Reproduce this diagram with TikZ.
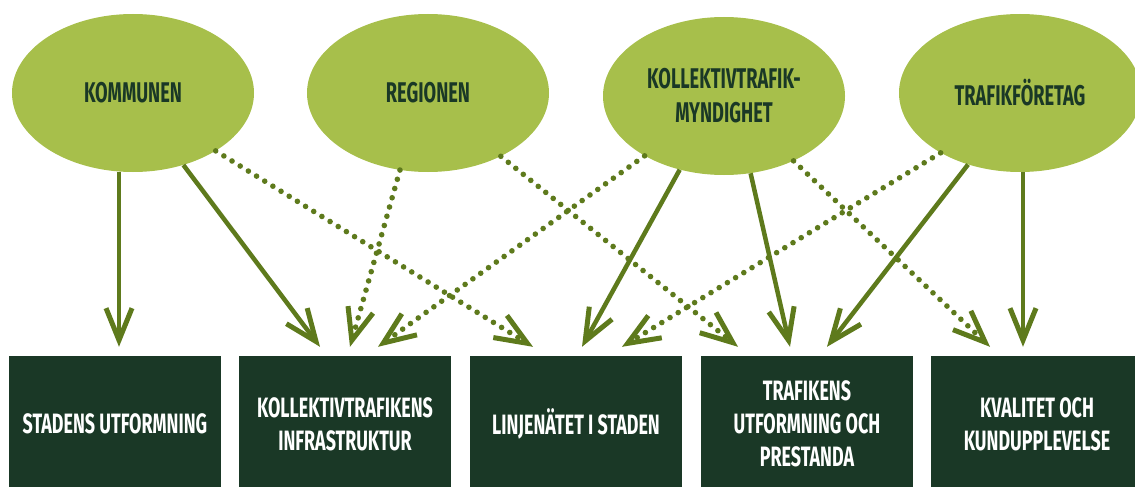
\documentclass[tikz,border=0pt]{standalone}
\usepackage{fontspec}
\newfontfamily\dinfont{Fira Sans}[FakeStretch=0.64]
\usetikzlibrary{shapes.geometric,arrows.meta}
\definecolor{lightg}{HTML}{A7BF4B}
\definecolor{arrowg}{HTML}{5E7A1C}
\definecolor{darkg}{HTML}{1A3826}
\tikzset{
  actor/.style={ellipse, fill=lightg, minimum width=242pt, minimum height=158pt, inner sep=0pt,
    text=darkg, font=\dinfont\bfseries\fontsize{28.5}{34}\selectfont, align=center},
  area/.style={rectangle, fill=darkg, minimum width=212pt, minimum height=136pt, inner sep=0pt,
    text=white, font=\dinfont\bfseries\fontsize{28}{33}\selectfont, align=center},
  tipv/.style={-{Straight Barb[length=32pt,width=26pt,line width=5pt]}},
  solidarrow/.style={tipv, draw=arrowg, line width=4.5pt},
  dotarrow/.style={tipv, draw=arrowg, line width=5.6pt, line cap=round, dash pattern=on 0pt off 9.6pt}
}
\begin{document}
\begin{tikzpicture}[x=1pt,y=-1pt]
\useasboundingbox (0,0) rectangle (1135,487);
% actors
\node[actor] (k) at (133,93) {KOMMUNEN};
\node[actor] (r) at (428,93) {REGIONEN};
\node[actor] (m) at (724,96) {KOLLEKTIVTRAFIK-\\MYNDIGHET};
\node[actor] (t) at (1020,93) {TRAFIKFÖRETAG};
% areas
\node[area] (b1) at (115,424) {STADENS UTFORMNING};
\node[area] (b2) at (345,424) {KOLLEKTIVTRAFIKENS\\INFRASTRUKTUR};
\node[area] (b3) at (576,424) {LINJENÄTET I STADEN};
\node[area] (b4) at (807,424) {TRAFIKENS\\UTFORMNING OCH\\PRESTANDA};
\node[area] (b5) at (1037,424) {KVALITET OCH\\KUNDUPPLEVELSE};
% solid connectors
\draw[solidarrow] ([xshift=-14pt]k.south) -- ([xshift=4pt,yshift=9pt]b1.north);
\draw[solidarrow] (k.-55) -- ([xshift=-25pt,yshift=9pt]b2.north);
\draw[solidarrow] (m.-121) -- ([xshift=6pt,yshift=9pt]b3.north);
\draw[solidarrow] (m.-71) -- ([xshift=-17pt,yshift=9pt]b4.north);
\draw[solidarrow] (t.-126) -- ([xshift=20pt,yshift=9pt]b4.north);
\draw[solidarrow] ([xshift=3pt]t.south) -- ([xshift=-14pt,yshift=9pt]b5.north);
% dotted connectors
\draw[dotarrow] (k.-35) -- ([xshift=-43pt,yshift=9pt]b3.north);
\draw[dotarrow] (r.-110) -- ([xshift=5pt,yshift=9pt]b2.north);
\draw[dotarrow] (r.-41) -- ([xshift=-69pt,yshift=9pt]b4.north);
\draw[dotarrow] (m.-143) -- ([xshift=33pt,yshift=9pt]b2.north);
\draw[dotarrow] (m.-43) -- ([xshift=-47pt,yshift=9pt]b5.north);
\draw[dotarrow] (t.-143) -- ([xshift=46pt,yshift=9pt]b3.north);
\end{tikzpicture}
\end{document}
